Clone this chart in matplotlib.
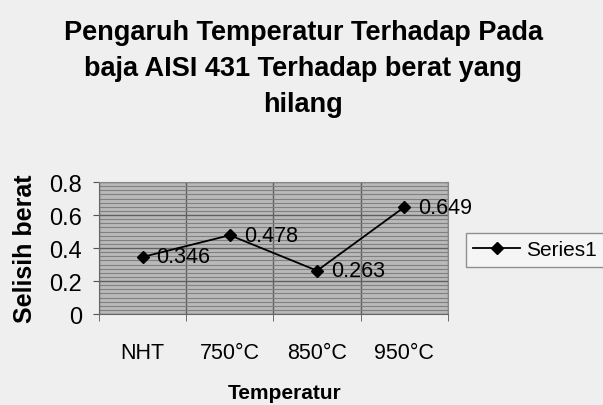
import numpy as np
import matplotlib.pyplot as plt
from matplotlib.ticker import MultipleLocator, FixedLocator

plt.rcParams['font.family'] = ['Liberation Sans', 'DejaVu Sans']

# Data
categories = ["NHT", "750°C", "850°C", "950°C"]
selisih_berat = [0.346, 0.478, 0.263, 0.649]
y_ticks = [0, 0.2, 0.4, 0.6, 0.8]
y_ticklabels = ['0', '0.2', '0.4', '0.6', '0.8']
series_name = "Series1"

fig = plt.figure(figsize=(6.03, 4.06), dpi=100, facecolor='#efefef')
ax = fig.add_axes([0.164, 0.224, 0.579, 0.325])
ax.set_facecolor('#b9b9b9')

x = np.arange(len(categories))
line, = ax.plot(x, selisih_berat, color='black', lw=1.3, marker='D',
                ms=6.5, mfc='black', mec='black', zorder=5, label=series_name)

# Data labels
for xi, v in zip(x, selisih_berat):
    ax.annotate(f"{v:g}", (xi, v), xytext=(10, 0), textcoords='offset points',
                ha='left', va='center', fontsize=15.5, zorder=6)

# Axes limits / ticks
ax.set_xlim(-0.5, len(categories) - 0.5)
ax.set_ylim(0, 0.8)
ax.set_yticks(y_ticks)
ax.set_yticklabels(y_ticklabels)
ax.yaxis.set_minor_locator(MultipleLocator(0.025))
ax.set_xticks(x)
ax.set_xticklabels(categories)
ax.xaxis.set_minor_locator(FixedLocator(np.arange(-0.5, len(categories), 1.0)))
ax.tick_params(axis='x', which='major', length=0, pad=20, labelsize=15.5)
ax.tick_params(axis='x', which='minor', length=5, direction='out', color='#555555')
ax.tick_params(axis='y', which='major', length=4, direction='out', pad=8,
               labelsize=17, color='#555555')
ax.tick_params(axis='y', which='minor', length=0)

# Pattern-like grid
ax.grid(True, axis='y', which='minor', color='#808080', lw=0.8)
ax.grid(True, axis='y', which='major', color='#606060', lw=1.0)
ax.grid(True, axis='x', which='minor', color='#606060', lw=1.0)
ax.set_axisbelow(True)

for side in ['top', 'right']:
    ax.spines[side].set_color('#888888')
for side in ['left', 'bottom']:
    ax.spines[side].set_color('#666666')

# Axis titles
ax.set_xlabel("Temperatur", fontsize=15, fontweight='bold')
ax.xaxis.set_label_coords(0.533, -0.52)
ax.set_ylabel("Selisih berat", fontsize=18, fontweight='bold')
ax.yaxis.set_label_coords(-0.178, 0.5)

# Chart title
fig.text(0.503, 0.95, "Pengaruh Temperatur Terhadap Pada\nbaja AISI 431 Terhadap berat yang\nhilang",
         ha='center', va='top', fontsize=19.5, fontweight='bold', linespacing=1.5)

# Legend
leg = fig.legend(handles=[line], loc='center left', bbox_to_anchor=(0.773, 0.382),
                 borderaxespad=0, fontsize=15, frameon=True, fancybox=False,
                 handlelength=2.25, borderpad=0.35, handletextpad=0.3)
leg.get_frame().set_edgecolor('#777777')
leg.get_frame().set_facecolor('#f7f7f7')
leg.get_frame().set_linewidth(1.0)

fig.savefig("out.png", dpi=100, facecolor=fig.get_facecolor())
